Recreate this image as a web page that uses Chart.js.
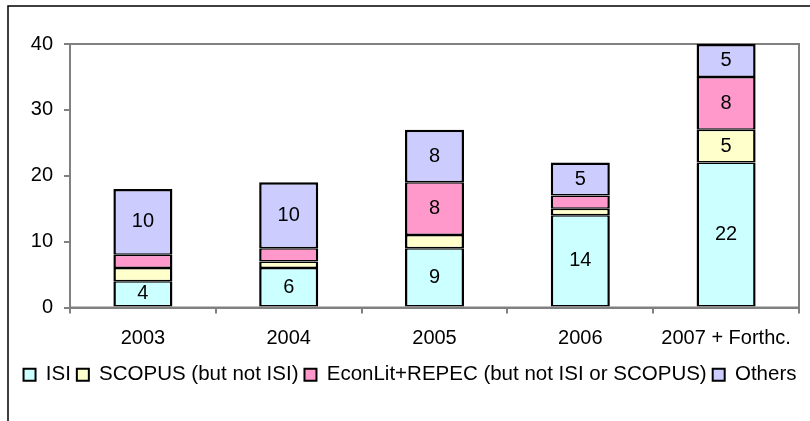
<!DOCTYPE html>
<html>
<head>
<meta charset="utf-8">
<script src="https://cdn.jsdelivr.net/npm/chart.js@4/dist/chart.umd.min.js"></script>
<style>
  html, body { margin: 0; padding: 0; background: #fff; }
  #wrap { width: 810px; height: 421px; }
</style>
</head>
<body>
<div id="wrap"><canvas id="chart" width="810" height="421"></canvas></div>
<script>
// data
const years = ['2003', '2004', '2005', '2006', '2007 + Forthc.'];
const isi = [4, 6, 9, 14, 22];
const scopus = [2, 1, 2, 1, 5];
const econlit = [2, 2, 8, 2, 8];
const others = [10, 10, 8, 5, 5];
const yTicks = [0, 10, 20, 30, 40];

const FONT = "'Liberation Sans', Arial, sans-serif";

// outer frame + plot area box
const framePlugin = {
  id: 'frame',
  beforeDraw(chart) {
    const ctx = chart.ctx;
    ctx.save();
    ctx.strokeStyle = '#000';
    ctx.lineWidth = 1.5;
    ctx.beginPath();
    ctx.moveTo(8, 421);
    ctx.lineTo(8, 6);
    ctx.lineTo(810, 6);
    ctx.stroke();
    ctx.restore();
  },
  beforeDatasetsDraw(chart) {
    const a = chart.chartArea;
    const ctx = chart.ctx;
    ctx.save();
    ctx.strokeStyle = '#808080';
    ctx.lineWidth = 2;
    ctx.strokeRect(a.left, a.top, a.right - a.left, a.bottom - a.top);
    ctx.restore();
  }
};

// value labels inside segments (small ones are left out, as in the original)
const labelPlugin = {
  id: 'valueLabels',
  afterDatasetsDraw(chart) {
    const ctx = chart.ctx;
    ctx.save();
    ctx.font = '20px ' + FONT;
    ctx.fillStyle = '#000';
    ctx.textAlign = 'center';
    ctx.textBaseline = 'middle';
    chart.data.datasets.forEach((ds, i) => {
      chart.getDatasetMeta(i).data.forEach((bar, j) => {
        const v = ds.data[j];
        if (v < 4) return;
        ctx.fillText(String(v), bar.x, (bar.y + bar.base) / 2);
      });
    });
    ctx.restore();
  }
};

// segments share their dividing line, the top of the stack gets the full edge
const innerBorder = { top: 1.5, bottom: 1.5, left: 2.5, right: 2.5 };
const topBorder = { top: 2.5, bottom: 1.5, left: 2.5, right: 2.5 };

const ctx = document.getElementById('chart').getContext('2d');
const chart = new Chart(ctx, {
  type: 'bar',
  data: {
    labels: years,
    datasets: [
      { label: 'ISI', data: isi, backgroundColor: '#CCFFFF', borderWidth: innerBorder },
      { label: 'SCOPUS (but not ISI)', data: scopus, backgroundColor: '#FFFFCC', borderWidth: innerBorder },
      { label: 'EconLit+REPEC (but not ISI or SCOPUS)', data: econlit, backgroundColor: '#FF99CC', borderWidth: innerBorder },
      { label: 'Others', data: others, backgroundColor: '#CCCCFF', borderWidth: topBorder }
    ].map(d => Object.assign(d, {
      borderColor: '#000',
      borderSkipped: false,
      barPercentage: 0.405,
      categoryPercentage: 1
    }))
  },
  options: {
    responsive: false,
    animation: false,
    layout: { padding: { top: 44, right: 0, left: 10, bottom: 26 } },
    plugins: {
      tooltip: { enabled: false },
      legend: {
        position: 'bottom',
        align: 'center',
        labels: {
          color: '#000',
          font: { family: FONT, size: 20.5 },
          boxWidth: 12,
          boxHeight: 12,
          padding: 6,
          generateLabels(chart) {
            return chart.data.datasets.map((ds, i) => ({
              text: ds.label,
              fillStyle: ds.backgroundColor,
              strokeStyle: '#000',
              lineWidth: 2,
              datasetIndex: i
            }));
          }
        }
      }
    },
    scales: {
      x: {
        stacked: true,
        grid: { offset: true, drawOnChartArea: false, tickLength: 6, color: '#808080', lineWidth: 2 },
        border: { color: '#808080', width: 2 },
        ticks: { color: '#000', padding: 13, maxRotation: 0, font: { family: FONT, size: 20 } },
        afterFit(scale) { scale.height = 51; }
      },
      y: {
        stacked: true,
        min: 0,
        max: 40,
        afterBuildTicks(scale) { scale.ticks = yTicks.map(v => ({ value: v })); },
        grid: { drawOnChartArea: false, tickLength: 6, color: '#808080', lineWidth: 2 },
        border: { color: '#808080', width: 2 },
        ticks: { color: '#000', padding: 11, font: { family: FONT, size: 20 } },
        afterFit(scale) { scale.width = 60; }
      },
      // empty right-hand strip so the plot ends where the original does
      yRight: {
        position: 'right',
        grid: { display: false },
        border: { display: false },
        ticks: { display: false },
        afterFit(scale) { scale.width = 11; }
      }
    }
  },
  plugins: [framePlugin, labelPlugin]
});
</script>
</body>
</html>
